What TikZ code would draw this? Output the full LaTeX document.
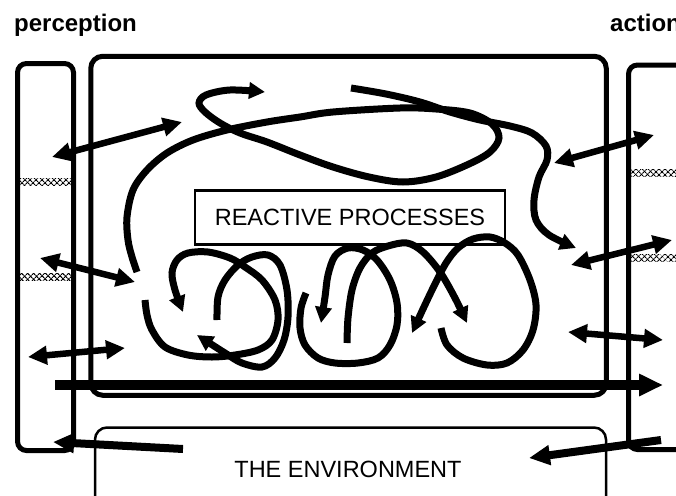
\documentclass[tikz,border=0pt]{standalone}
\usepackage{fontspec}
\setmainfont{Liberation Sans}
\usetikzlibrary{arrows.meta,patterns.meta}
\begin{document}
\begin{tikzpicture}[x=1pt,y=-1pt,
  frame/.style={draw, line width=5pt, rounded corners=9pt, inner sep=0pt},
  thinbox/.style={draw, line width=2.5pt, inner sep=0pt},
  lbl/.style={font=\fontsize{23.5}{28}\selectfont},
  curv/.style={line width=7pt},
  chead/.style={-{Triangle[length=16pt,width=16pt]}},
  dbl/.style={line width=6.5pt, {Triangle[length=19pt,width=18pt]}-{Triangle[length=19pt,width=18pt]}},
  wedge/.style={line width=8pt, -{Triangle[length=21pt,width=19pt]}},
  hatchA/.style={pattern={Lines[angle=45,distance=4pt,line width=1.2pt]}, pattern color=black},
  hatchB/.style={pattern={Lines[angle=-45,distance=4pt,line width=1.2pt]}, pattern color=black}
]
\useasboundingbox (0,0) rectangle (676,495);

% labels
\node[font=\fontsize{24}{28}\selectfont\bfseries, anchor=base west, inner sep=0pt] (perc) at (14,32) {perception};
\node[font=\fontsize{24}{28}\selectfont\bfseries, anchor=base west, inner sep=0pt] (act) at (610,32) {action};

% frames
\node[frame, minimum width=56pt, minimum height=387pt] (lbar) at (45.5,257) {};
\node[frame, minimum width=70pt, minimum height=384.5pt] (rbar) at (663.5,257.25) {};
\node[frame, rounded corners=12pt, minimum width=515.5pt, minimum height=339pt] (main) at (348.5,225.75) {};
\node[thinbox, rounded corners=12pt, minimum width=511pt, minimum height=110pt] (envbox) at (350.5,482.5) {};
\node[thinbox, minimum width=310pt, minimum height=54pt, lbl] (rp) at (350,217.5) {REACTIVE PROCESSES};
\node[lbl, anchor=base, inner sep=0pt] (env) at (348,477) {THE ENVIRONMENT};

% hatched bands
\foreach \y in {178,273} {
  \fill[hatchA] (20,\y) rectangle (72,\y+7);
  \fill[hatchB] (20,\y) rectangle (72,\y+7);
}
\foreach \y in {169,254} {
  \fill[hatchA] (631,\y) rectangle (676,\y+7);
  \fill[hatchB] (631,\y) rectangle (676,\y+7);
}

% endpoints
\coordinate (a1l) at (52,157);  \coordinate (a1r) at (182,122);
\coordinate (a2l) at (40,258);  \coordinate (a2r) at (135,282);
\coordinate (a3l) at (28,357);  \coordinate (a3r) at (125,348);
\coordinate (a7l) at (554,163); \coordinate (a7r) at (654,135);
\coordinate (a8l) at (571,265); \coordinate (a8r) at (672,240);
\coordinate (a9l) at (568,332); \coordinate (a9r) at (663,340);
\coordinate (hs) at (55,385);   \coordinate (he) at (663,385);
\coordinate (b1s) at (183,449); \coordinate (b1e) at (53,442);
\coordinate (b2s) at (661,440); \coordinate (b2e) at (529,458);

% straight arrows
\draw[dbl] (a1l) -- (a1r);
\draw[dbl] (a2l) -- (a2r);
\draw[dbl] (a3l) -- (a3r);
\draw[dbl] (a7l) -- (a7r);
\draw[dbl] (a8l) -- (a8r);
\draw[dbl] (a9l) -- (a9r);
\draw[line width=9.5pt, -{Triangle[length=24pt,width=21pt]}] (hs) -- (he);
\draw[wedge] (b1s) -- (b1e);
\draw[wedge] (b2s) -- (b2e);

% big loop X
\draw[curv, chead] plot[smooth, tension=0.55] coordinates {
  (137,272) (132,257) (128,240) (127,217) (133,190) (147,170) (167,153)
  (193,140) (227,130) (267,122) (300,117) (333,112) (400,108) (436,109)
  (470,113) (492,124) (499,138) (490,152) (469,164) (436,177) (403,182)
  (369,177) (333,167) (300,155) (267,142) (240,133) (220,123) (205,112)
  (199,103) (206,95) (230,90) (265,92)};
% Y
\draw[curv, chead] plot[smooth, tension=0.55] coordinates {
  (351,88) (386,94) (420,102) (450,112) (480,120) (510,126) (532,133)
  (546,146) (547,160) (539,177) (534,200) (536,220) (549,235) (576,248)};
% P
\draw[curv, chead] plot[smooth, tension=0.55] coordinates {
  (145,300) (147,315) (152,330) (165,347) (188,355) (212,357) (235,355)
  (258,350) (272,340) (278,320) (275,300) (262,280) (245,267) (230,258)
  (208,252) (188,253) (177,260) (172,273) (175,290) (183,312)};
% Q
\draw[curv, chead] plot[smooth, tension=0.55] coordinates {
  (217,320) (218,297) (225,280) (238,265) (252,257) (268,255) (280,265)
  (287,290) (288,317) (284,340) (275,358) (262,367) (242,363) (225,353)
  (197,335)};
% R
\draw[curv, chead] plot[smooth, tension=0.55] coordinates {
  (306,293) (301,308) (300,328) (305,345) (318,358) (335,363) (358,363)
  (378,358) (390,345) (397,325) (397,303) (390,280) (377,260) (363,250)
  (348,248) (335,256) (328,275) (325,297) (321,323)};
% S
\draw[curv, chead] plot[smooth, tension=0.55] coordinates {
  (347,343) (348,318) (352,290) (360,268) (372,253) (388,246) (407,243)
  (423,252) (440,272) (455,298) (467,323)};
% U
\draw[curv, chead] plot[smooth, tension=0.55] coordinates {
  (441,328) (447,345) (463,358) (487,365) (507,363) (523,350) (533,330)
  (536,305) (530,280) (518,255) (505,243) (490,237) (473,239) (458,248)
  (446,263) (434,286) (423,309) (412,333)};
\end{tikzpicture}
\end{document}
